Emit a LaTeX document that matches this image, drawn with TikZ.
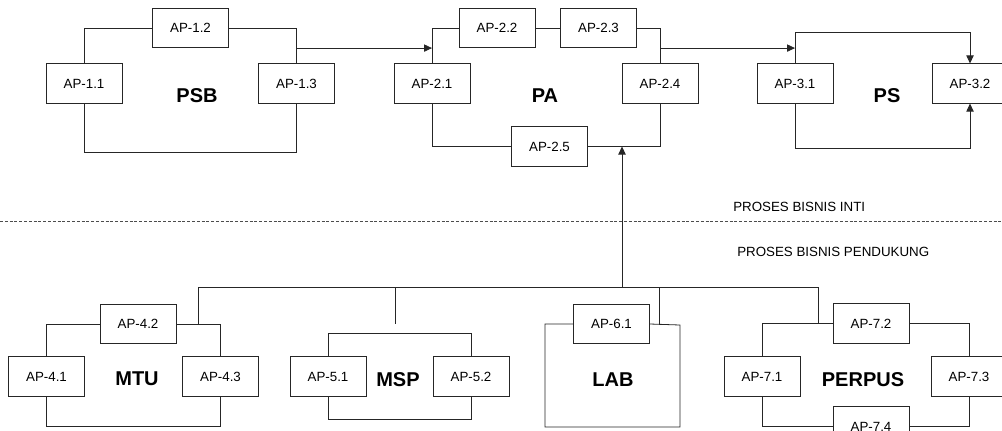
\documentclass[tikz,border=0pt]{standalone}
\usepackage{fontspec}
\setmainfont{Liberation Sans}
\usetikzlibrary{arrows.meta,backgrounds}
\begin{document}
\begin{tikzpicture}[x=0.75pt,y=-0.75pt,
  apbox/.style={draw=black!85,fill=white,line width=0.6pt,minimum width=57pt,minimum height=29.5pt,inner sep=0pt,font=\fontsize{10}{12}\selectfont},
  biglabel/.style={font=\fontsize{15}{18}\selectfont\bfseries,inner sep=0pt},
  plain/.style={font=\fontsize{10}{12}\selectfont,inner sep=0pt,anchor=west},
  frame/.style={draw=black!85,line width=0.6pt},
  arr/.style={draw=black!85,line width=0.6pt,-{Triangle[length=6pt,width=5.5pt]}}]
\useasboundingbox (0,0) rectangle (1002,430);
\clip (0,0) rectangle (1002,430);
% ---- top row
\node[apbox] (a11) at (84,83.5) {AP-1.1};
\node[apbox] (a12) at (190.5,28) {AP-1.2};
\node[apbox] (a13) at (296.5,83.5) {AP-1.3};
\node[biglabel] (psb) at (197,96) {PSB};
\node[apbox] (a21) at (432,83.5) {AP-2.1};
\node[apbox] (a22) at (497,28) {AP-2.2};
\node[apbox] (a23) at (598.5,28) {AP-2.3};
\node[apbox] (a24) at (660,83.5) {AP-2.4};
\node[apbox] (a25) at (549.5,146.5) {AP-2.5};
\node[biglabel] (pa) at (545,96) {PA};
\node[apbox] (a31) at (795,83.5) {AP-3.1};
\node[apbox] (a32) at (970,83.5) {AP-3.2};
\node[biglabel] (ps) at (887,96) {PS};
% ---- bottom row
\node[apbox] (a41) at (46.5,376.5) {AP-4.1};
\node[apbox] (a42) at (138,324) {AP-4.2};
\node[apbox] (a43) at (220.5,376.5) {AP-4.3};
\node[biglabel] (mtu) at (137,379) {MTU};
\node[apbox] (a51) at (328,376.5) {AP-5.1};
\node[apbox] (a52) at (471,376.5) {AP-5.2};
\node[biglabel] (msp) at (398,380) {MSP};
\node[apbox] (a61) at (611.5,324) {AP-6.1};
\node[biglabel] (lab) at (613,380) {LAB};
\node[apbox] (a71) at (762,376.5) {AP-7.1};
\node[apbox] (a72) at (871,323.5) {AP-7.2};
\node[apbox] (a73) at (969,376.5) {AP-7.3};
\node[apbox] (a74) at (871,426.5) {AP-7.4};
\node[biglabel] (perpus) at (863,380) {PERPUS};
% ---- texts
\node[plain] (inti) at (733,207) {PROSES BISNIS INTI};
\node[plain] (pend) at (737,252) {PROSES BISNIS PENDUKUNG};
\coordinate (dl) at (0,221);
\coordinate (dr) at (1002,221);
% frame corners
\coordinate (psbB) at (84,152);
\coordinate (psTL) at (795,32);
\coordinate (psTR) at (970,32);
\coordinate (psBL) at (795,148);
\coordinate (psBR) at (970,148);
\coordinate (mtuB) at (46.5,426);
\coordinate (mspT) at (328,333);
\coordinate (mspB) at (328,419);
\coordinate (labBL) at (545,427);
\coordinate (labTR) at (680,325);
% bus coordinates
\coordinate (bL) at (198,287);
\coordinate (bR) at (818,287);
\coordinate (bM) at (622,287);
\coordinate (bS) at (395,287);
\coordinate (bSe) at (395,324);
\coordinate (bLab) at (659,287);
\coordinate (paB) at (622,146.5);
\coordinate (mtuT) at (198,324);
\coordinate (labT) at (659,325);
\coordinate (perT) at (818,323.5);
\begin{pgfonlayer}{background}
  % PSB frame
  \draw[frame] (a11.north) |- (a12.west);
  \draw[frame] (a12.east) -| (a13.north);
  \draw[frame] (a11.south) -- (psbB) -| (a13.south);
  % PA frame
  \draw[frame] (a21.north) |- (a22.west);
  \draw[frame] (a22.east) -- (a23.west);
  \draw[frame] (a23.east) -| (a24.north);
  \draw[frame] (a21.south) |- (a25.west);
  \draw[frame] (a25.east) -| (a24.south);
  % PS frame
  \draw[arr] (a31.north) -- (psTL) -- (psTR) -- (a32.north);
  \draw[arr] (a31.south) -- (psBL) -- (psBR) -- (a32.south);
  % PSB -> PA -> PS
  \draw[arr] (a13.north |- a12.south) -- (a21.north |- a12.south);
  \draw[arr] (a24.north |- a23.south) -- (a31.north |- a23.south);
  % dashed separator
  \draw[draw=black!70,line width=0.6pt,dash pattern=on 2.2pt off 1.4pt] (dl) -- (dr);
  % MTU frame
  \draw[frame] (a41.north) |- (a42.west);
  \draw[frame] (a42.east) -| (a43.north);
  \draw[frame] (a41.south) -- (mtuB) -| (a43.south);
  % MSP frame
  \draw[frame] (a51.north) -- (mspT) -| (a52.north);
  \draw[frame] (a51.south) -- (mspB) -| (a52.south);
  % LAB frame
  \draw[frame] (a61.west) -| (labBL) -| (labTR) -- (a61.east);
  % PERPUS frame
  \draw[frame] (a71.north) |- (a72.west);
  \draw[frame] (a72.east) -| (a73.north);
  \draw[frame] (a71.south) |- (a74.west);
  \draw[frame] (a74.east) -| (a73.south);
  % bus
  \draw[frame] (mtuT) -- (bL) -- (bR) -- (perT);
  \draw[frame] (bS) -- (bSe);
  \draw[frame] (bLab) -- (labT);
  \draw[arr] (bM) -- (paB);
\end{pgfonlayer}
\end{tikzpicture}
\end{document}
